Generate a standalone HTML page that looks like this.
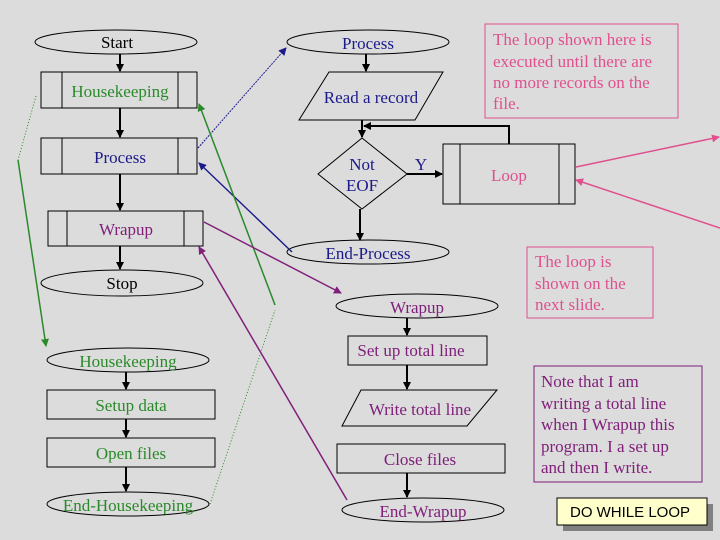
<!DOCTYPE html>
<html><head><meta charset="utf-8"><style>
html,body{margin:0;padding:0;background:#dcdcdc;}
svg{display:block;}
text{font-family:"Liberation Serif",serif;font-size:17px;text-anchor:middle;}
</style></head><body>
<svg width="720" height="540" viewBox="0 0 720 540" xmlns="http://www.w3.org/2000/svg">
<defs>
<marker id="ak" markerWidth="8" markerHeight="8" refX="7" refY="4" orient="auto" markerUnits="userSpaceOnUse"><path d="M0,0 L8,4 L0,8 z" fill="#000"/></marker>
<marker id="ab" markerWidth="8" markerHeight="8" refX="7" refY="4" orient="auto" markerUnits="userSpaceOnUse"><path d="M0,0 L8,4 L0,8 z" fill="#1a1a8a"/></marker>
<marker id="ag" markerWidth="8" markerHeight="8" refX="7" refY="4" orient="auto" markerUnits="userSpaceOnUse"><path d="M0,0 L8,4 L0,8 z" fill="#2a8a2a"/></marker>
<marker id="ap" markerWidth="8" markerHeight="8" refX="7" refY="4" orient="auto" markerUnits="userSpaceOnUse"><path d="M0,0 L8,4 L0,8 z" fill="#80207a"/></marker>
<marker id="ai" markerWidth="8" markerHeight="8" refX="7" refY="4" orient="auto" markerUnits="userSpaceOnUse"><path d="M0,0 L8,4 L0,8 z" fill="#e0508f"/></marker>
</defs>
<rect width="720" height="540" fill="#dcdcdc"/>
<g fill="none" stroke="#000" stroke-width="1">
<ellipse cx="116" cy="42" rx="81" ry="12"/>
<rect x="41" y="72" width="156" height="36"/><line x1="62" y1="72" x2="62" y2="108"/><line x1="178" y1="72" x2="178" y2="108"/>
<rect x="41" y="138" width="156" height="36"/><line x1="62" y1="138" x2="62" y2="174"/><line x1="178" y1="138" x2="178" y2="174"/>
<rect x="48" y="211" width="155" height="35"/><line x1="67" y1="211" x2="67" y2="246"/><line x1="184" y1="211" x2="184" y2="246"/>
<ellipse cx="122" cy="283" rx="81" ry="13"/>
<ellipse cx="368" cy="42" rx="81" ry="12"/>
<polygon points="329,72 443,72 415,120 299,120"/>
<polygon points="362,138 407,174 362,209 318,174"/>
<rect x="443" y="144" width="132" height="60"/><line x1="460" y1="144" x2="460" y2="204"/><line x1="559" y1="144" x2="559" y2="204"/>
<ellipse cx="368" cy="252" rx="81" ry="12"/>
<ellipse cx="417" cy="306" rx="81" ry="12"/>
<ellipse cx="128" cy="360" rx="81" ry="12"/>
<rect x="47" y="390" width="168" height="29"/>
<rect x="47" y="438" width="168" height="29"/>
<ellipse cx="128" cy="504" rx="81" ry="12"/>
<rect x="348" y="336" width="139" height="29"/>
<polygon points="361,390 497,390 467,426 342,426"/>
<rect x="337" y="444" width="168" height="29"/>
<ellipse cx="423" cy="510" rx="81" ry="12"/>
</g>
<g stroke="#000" stroke-width="2" fill="none">
<line x1="120" y1="54" x2="120" y2="71" marker-end="url(#ak)"/>
<line x1="120" y1="108" x2="120" y2="137" marker-end="url(#ak)"/>
<line x1="120" y1="174" x2="120" y2="210" marker-end="url(#ak)"/>
<line x1="120" y1="246" x2="120" y2="269" marker-end="url(#ak)"/>
<line x1="366" y1="54" x2="366" y2="71" marker-end="url(#ak)"/>
<line x1="362" y1="120" x2="362" y2="137" marker-end="url(#ak)"/>
<polyline points="509,144 509,126 364,126" marker-end="url(#ak)"/>
<line x1="407" y1="174" x2="442" y2="174" marker-end="url(#ak)"/>
<line x1="360" y1="209" x2="360" y2="240" marker-end="url(#ak)"/>
<line x1="126" y1="372" x2="126" y2="389" marker-end="url(#ak)"/>
<line x1="126" y1="419" x2="126" y2="437" marker-end="url(#ak)"/>
<line x1="126" y1="467" x2="126" y2="491" marker-end="url(#ak)"/>
<line x1="407" y1="318" x2="407" y2="335" marker-end="url(#ak)"/>
<line x1="407" y1="365" x2="407" y2="389" marker-end="url(#ak)"/>
<line x1="407" y1="473" x2="407" y2="497" marker-end="url(#ak)"/>
</g>
<line x1="198" y1="148" x2="286" y2="48" stroke="#1a1a8a" stroke-width="1" stroke-dasharray="2,1" marker-end="url(#ab)"/>
<line x1="292" y1="252" x2="199" y2="163" stroke="#1a1a8a" stroke-width="1.4" marker-end="url(#ab)"/>
<line x1="275" y1="305" x2="199" y2="104" stroke="#2a8a2a" stroke-width="1.5" marker-end="url(#ag)"/>
<line x1="210" y1="504" x2="275" y2="310" stroke="#2a8a2a" stroke-width="1" stroke-dasharray="1,2"/>
<line x1="36" y1="96" x2="18" y2="160" stroke="#2a8a2a" stroke-width="1" stroke-dasharray="1,2"/>
<line x1="18" y1="160" x2="46" y2="346" stroke="#2a8a2a" stroke-width="1.5" marker-end="url(#ag)"/>
<line x1="204" y1="222" x2="341" y2="293" stroke="#80207a" stroke-width="1.5" marker-end="url(#ap)"/>
<line x1="347" y1="500" x2="199" y2="247" stroke="#80207a" stroke-width="1.5" marker-end="url(#ap)"/>
<line x1="576" y1="167" x2="719" y2="137" stroke="#e0508f" stroke-width="1.5" marker-end="url(#ai)"/>
<line x1="720" y1="228" x2="576" y2="180" stroke="#e0508f" stroke-width="1.5" marker-end="url(#ai)"/>
<rect x="485" y="24" width="193" height="94" fill="none" stroke="#e0508f"/>
<rect x="527" y="247" width="126" height="71" fill="none" stroke="#e0508f"/>
<rect x="534" y="366" width="168" height="116" fill="none" stroke="#80207a"/>
<rect x="563" y="504" width="150" height="27" fill="#808080"/>
<rect x="557" y="498" width="150" height="27" fill="#ffffcc" stroke="#000"/>
<text x="117" y="48" fill="#000">Start</text>
<text x="120" y="97" fill="#2a8a2a">Housekeeping</text>
<text x="120" y="163" fill="#1a1a8a">Process</text>
<text x="126" y="235" fill="#80207a">Wrapup</text>
<text x="122" y="289" fill="#000">Stop</text>
<text x="368" y="49" fill="#1a1a8a">Process</text>
<text x="371" y="103" fill="#1a1a8a">Read a record</text>
<text x="362" y="170" fill="#1a1a8a">Not</text>
<text x="362" y="191" fill="#1a1a8a">EOF</text>
<text x="421" y="170" fill="#1a1a8a">Y</text>
<text x="509" y="181" fill="#e0508f">Loop</text>
<text x="368" y="259" fill="#1a1a8a">End-Process</text>
<text x="417" y="313" fill="#80207a">Wrapup</text>
<g fill="#e0508f">
<text x="493" y="45" style="text-anchor:start">The loop shown here is</text>
<text x="493" y="67" style="text-anchor:start">executed until there are</text>
<text x="493" y="88" style="text-anchor:start">no more records on the</text>
<text x="493" y="109" style="text-anchor:start">file.</text>
<text x="535" y="267" style="text-anchor:start">The loop is</text>
<text x="535" y="289" style="text-anchor:start">shown on the</text>
<text x="535" y="310" style="text-anchor:start">next slide.</text>
</g>
<g fill="#80207a">
<text x="541" y="387" style="text-anchor:start">Note that I am</text>
<text x="541" y="409" style="text-anchor:start">writing a total line</text>
<text x="541" y="430" style="text-anchor:start">when I Wrapup this</text>
<text x="541" y="452" style="text-anchor:start">program. I a set up</text>
<text x="541" y="473" style="text-anchor:start">and then I write.</text>
<text x="411" y="356">Set up total line</text>
<text x="420" y="415">Write total line</text>
<text x="420" y="465">Close files</text>
<text x="423" y="517">End-Wrapup</text>
</g>
<g fill="#2a8a2a">
<text x="128" y="367">Housekeeping</text>
<text x="131" y="411">Setup data</text>
<text x="131" y="459">Open files</text>
<text x="128" y="511">End-Housekeeping</text>
</g>
<text x="630" y="517" fill="#000" style="font-family:'Liberation Sans',sans-serif;font-size:15px">DO WHILE LOOP</text>
</svg>
</body></html>
